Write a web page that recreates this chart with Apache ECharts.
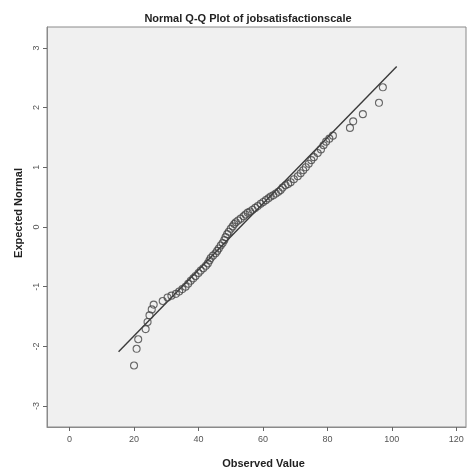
<!DOCTYPE html>
<html>
<head>
<meta charset="utf-8">
<script src="https://cdn.jsdelivr.net/npm/echarts@6/dist/echarts.min.js"></script>
<style>
  html, body { margin: 0; padding: 0; background: #fff; }
  #main { width: 475px; height: 474px; }
</style>
</head>
<body>
<div id="main"></div>
<script>
// observed value, expected normal
var observed = [20.0, 20.8, 21.3, 23.6, 24.2, 24.8, 25.5, 26.1, 28.9,
  30.4, 31.6, 33.0, 34.0, 35.0, 36.0, 36.8, 37.6, 38.4, 39.1, 40.0, 40.7, 41.5, 42.3, 42.9,
  43.4, 43.8, 44.5, 45.3, 45.8, 46.3, 46.9, 47.5, 48.0, 48.4, 48.9, 49.4, 50.0, 50.6, 51.1,
  51.6, 52.3, 53.1, 54.0, 54.6, 55.3, 56.0, 56.8, 57.6, 58.4, 59.3, 60.1, 60.9, 61.7, 62.4,
  63.2, 64.0, 64.8, 65.5, 66.1, 67.0, 67.8, 68.6, 69.6, 70.8, 71.7, 72.5, 73.3, 74.2, 75.0,
  75.8, 77.0, 78.0, 78.8, 79.6, 80.6, 81.7,
  87.0, 88.0, 91.0, 96.0, 97.2];
var expected = [-2.32, -2.04, -1.88, -1.71, -1.59, -1.48, -1.38, -1.30, -1.24,
  -1.18, -1.15, -1.12, -1.08, -1.04, -1.00, -0.95, -0.90, -0.86, -0.82, -0.77, -0.73, -0.69, -0.65, -0.61,
  -0.56, -0.52, -0.48, -0.44, -0.40, -0.36, -0.31, -0.27, -0.22, -0.17, -0.12, -0.08, -0.03, 0.01, 0.05,
  0.08, 0.11, 0.14, 0.18, 0.21, 0.24, 0.26, 0.29, 0.32, 0.35, 0.39, 0.42, 0.45, 0.48, 0.51,
  0.53, 0.56, 0.59, 0.62, 0.66, 0.70, 0.72, 0.75, 0.80, 0.85, 0.90, 0.95, 1.00, 1.06, 1.12,
  1.17, 1.24, 1.30, 1.37, 1.43, 1.48, 1.53,
  1.66, 1.77, 1.89, 2.08, 2.34];
// reference line end points
var lineX = [15.2, 101.5];
var lineY = [-2.09, 2.69];
var xTicks = [0, 20, 40, 60, 80, 100, 120];
var yTicks = [-3, -2, -1, 0, 1, 2, 3];

var points = observed.map(function (v, i) { return [v, expected[i]]; });
var linePts = lineX.map(function (v, i) { return [v, lineY[i]]; });

var chart = echarts.init(document.getElementById('main'));
chart.setOption({
  backgroundColor: '#fff',
  animation: false,
  title: {
    text: 'Normal Q-Q Plot of jobsatisfactionscale',
    left: 243, top: 8, textAlign: 'center',
    textStyle: { fontFamily: 'Liberation Sans', fontSize: 11, fontWeight: 'bold', color: '#222' }
  },
  grid: { left: 47, top: 27, right: 9, bottom: 46, show: true,
    backgroundColor: '#f0f0f0', borderColor: '#8a8a8a', borderWidth: 1 },
  xAxis: {
    type: 'value', min: -7, max: 123,
    name: 'Observed Value', nameLocation: 'middle', nameGap: 31,
    nameTextStyle: { fontFamily: 'Liberation Sans', fontSize: 11, fontWeight: 'bold', color: '#222', padding: [0, 0, 0, 14] },
    axisLine: { show: true, onZero: false, lineStyle: { color: '#8a8a8a' } },
    axisTick: { show: true, length: 4, customValues: xTicks, lineStyle: { color: '#666' } },
    axisLabel: { customValues: xTicks, fontFamily: 'Liberation Sans', fontSize: 9, color: '#555', margin: 8 },
    splitLine: { show: false }
  },
  yAxis: {
    type: 'value', min: -3.35, max: 3.35,
    name: 'Expected Normal', nameLocation: 'middle', nameGap: 22,
    nameTextStyle: { fontFamily: 'Liberation Sans', fontSize: 11, fontWeight: 'bold', color: '#222', padding: [0, 0, 0, 28] },
    axisLine: { show: true, onZero: false, lineStyle: { color: '#8a8a8a' } },
    axisTick: { show: true, length: 4, customValues: yTicks, lineStyle: { color: '#666' } },
    axisLabel: { customValues: yTicks, rotate: 90, fontFamily: 'Liberation Sans', fontSize: 9, color: '#555', margin: 6 },
    splitLine: { show: false }
  },
  series: [
    {
      type: 'line', data: linePts, symbol: 'none',
      lineStyle: { color: '#3a3a3a', width: 1.4 }, z: 2
    },
    {
      type: 'scatter', data: points, symbol: 'circle', symbolSize: 7,
      itemStyle: { color: 'rgba(0,0,0,0)', borderColor: '#444', borderWidth: 1.1 }, z: 3
    }
  ]
});
</script>
</body>
</html>
